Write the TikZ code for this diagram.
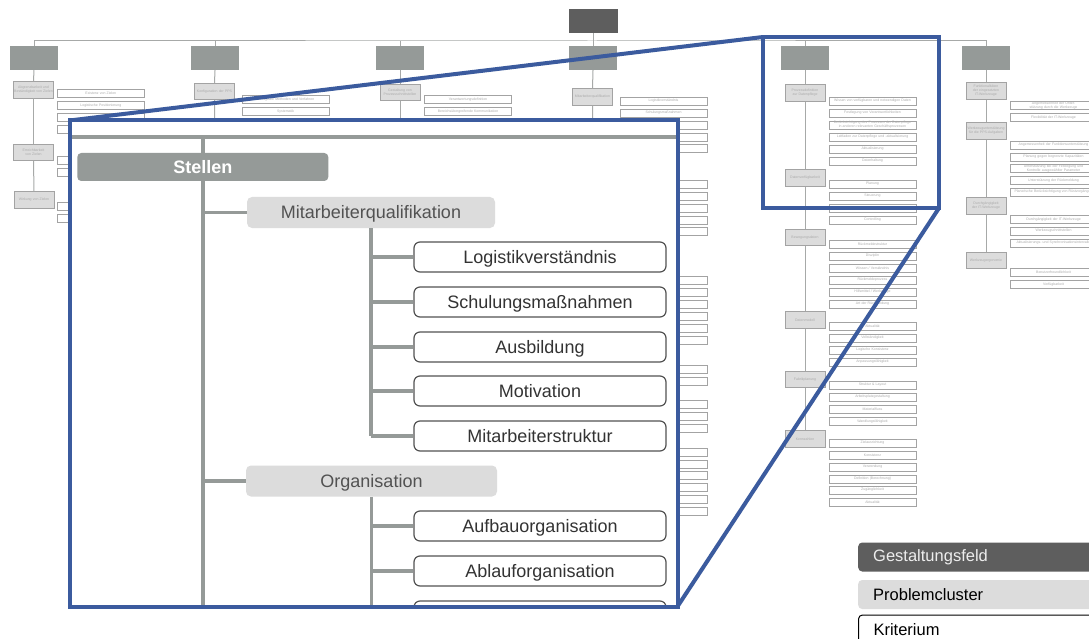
\documentclass[tikz,border=0pt]{standalone}
\usepackage{fontspec}
\setmainfont{Liberation Sans}
\definecolor{gfg}{HTML}{959A98}
\definecolor{dkg}{HTML}{5E5E5E}
\definecolor{pcf}{HTML}{DCDCDC}
\definecolor{pcd}{HTML}{A3A3A3}
\definecolor{lng}{HTML}{A7A9A8}
\definecolor{tinyc}{HTML}{ABABAB}
\definecolor{blu}{RGB}{59,91,158}
\newcommand\tinyf{\fontsize{3.5}{4}\selectfont}
\newcommand\bigf{\fontsize{18}{20}\selectfont}
\tikzset{
  gfbox/.style={fill=gfg, minimum width=48pt, minimum height=24pt, inner sep=0pt},
  pcbox/.style={fill=pcf, draw=pcd, line width=0.8pt, minimum width=40pt, minimum height=16.5pt,
    inner sep=0.3pt, text width=39pt, align=center, font=\tinyf, text=tinyc},
  krbox/.style={fill=white, draw=pcd, line width=0.8pt, minimum width=87pt, minimum height=8pt,
    inner sep=0.2pt, text width=86pt, align=center, font=\tinyf, text=tinyc},
  bgline/.style={draw=lng, line width=1pt},
  zoomline/.style={draw=blu, line width=4pt},
  trunk/.style={draw=gfg, line width=3.5pt},
  stellenbox/.style={fill=gfg, rounded corners=4pt, minimum width=251pt, minimum height=28pt,
    inner sep=0pt, text=white, font=\bigf\bfseries, text depth=1pt},
  clusterbox/.style={fill=pcf, rounded corners=5pt, minimum height=31pt, inner sep=0pt,
    text=black!68, font=\bigf, text depth=0.5pt},
  kritbox/.style={fill=white, draw=black!68, line width=1.2pt, rounded corners=6pt,
    minimum width=252pt, minimum height=30pt, inner sep=0pt, text=black!80, font=\bigf, text depth=0.5pt},
  legbox/.style={anchor=west, rounded corners=4pt, text width=240pt, align=left,
    inner xsep=15pt, minimum height=29pt, font=\fontsize{16.5}{18}\selectfont}
}
\begin{document}
\begin{tikzpicture}[x=1pt,y=-1pt]
\clip (0,0) rectangle (1089,639);
\fill[white] (0,0) rectangle (1089,639);

% ---------- background overview ----------
\node[fill=dkg, minimum width=49pt, minimum height=24pt, inner sep=0pt] (top) at (593,21) {};
\coordinate (hb) at (593,41);
\node[gfbox] (g1) at (34,58) {};
\node[gfbox] (g2) at (215,58) {};
\node[gfbox] (g3) at (400,58) {};
\node[gfbox] (g4) at (593,58) {};
\node[gfbox] (g5) at (805,58) {};
\node[gfbox] (g6) at (986,58) {};
\draw[bgline] (top.south) -- (hb);
\draw[bgline] (g1.north) |- (hb) -| (g6.north);
\foreach \g in {g2,g3,g4,g5} \draw[bgline] (\g.north) -- (\g.north |- hb);

% column 1
\node[pcbox] (c11) at (33.5,89.7) {Abgrenzbarkeit und Beständigkeit von Zielen};
\node[pcbox] (c12) at (33.5,152.5) {Erreichbarkeit von Zielen};
\node[pcbox] (c13) at (34,200) {Wirkung von Zielen};
\foreach \a/\b in {g1/c11,c11/c12,c12/c13} \draw[bgline] (\a.south) -- (\b.north);
\foreach \y/\t [count=\i] in {93.5/Existenz von Zielen,105.5/Logistische Positionierung,117/{},129/{},160.5/{},172/{},206/{},218/{}}
  \node[krbox] (k1-\i) at (100.8,\y) {\t};

% column 2
\node[pcbox] (c21) at (214.5,91.5) {Konfiguration der PPS};
\coordinate (e2) at (215,420);
\draw[bgline] (g2.south) -- (c21.north) (c21.south) -- (e2);
\node[krbox] (k2-1) at (285.6,99.5) {Verfügbare Methoden und Verfahren};
\node[krbox] (k2-2) at (285.6,111.5) {Systematik};

% column 3
\node[pcbox] (c31) at (400,92.5) {Gestaltung von Prozessschnittstellen};
\coordinate (e3) at (400,420);
\draw[bgline] (g3.south) -- (c31.north) (c31.south) -- (e3);
\node[krbox] (k3-1) at (468,99.5) {Verantwortungsdefinition};
\node[krbox] (k3-2) at (468,111.3) {Bereichsübergreifende Kommunikation};

% column 4
\node[pcbox] (c41) at (592.5,97) {Mitarbeiterqualifikation};
\coordinate (e4) at (593,420);
\draw[bgline] (g4.south) -- (c41.north) (c41.south) -- (e4);
\foreach \y/\t [count=\i] in {101/Logistikverständnis,113/Schulungsmaßnahmen,125/Ausbildung,137/Motivation,148.5/Mitarbeiterstruktur,
  184/{},196/{},208/{},220/{},231.5/{},280/{},292/{},304/{},316/{},328/{},340/{},369.5/{},381/{},
  404.5/{},416/{},428/{},452/{},464/{},475.5/{},487/{},499/{},511/{}}
  \node[krbox] (k4-\i) at (663.5,\y) {\t};

% column 5
\node[pcbox] (c51) at (805,93) {Prozessdefinition zur Datenpflege};
\node[pcbox] (c52) at (805,178) {Datenverfügbarkeit};
\node[pcbox] (c53) at (805,237.5) {Bewegungsdaten};
\node[pcbox] (c54) at (805,320) {Datenmodell};
\node[pcbox] (c55) at (805,379.5) {Fabrikplanung};
\node[pcbox] (c56) at (805,439) {Kennzahlen};
\foreach \a/\b in {g5/c51,c51/c52,c52/c53,c53/c54,c54/c55,c55/c56} \draw[bgline] (\a.south) -- (\b.north);
\foreach \y/\t [count=\i] in {101/Wissen von verfügbaren und notwendigen Daten,113/Festlegung von Verantwortlichkeiten,
  125/Berücksichtigung des Prozesses der Datenpflege in anderen relevanten Geschäftsprozessen,
  137/Leitfaden zur Datenpflege und -aktualisierung,149/Aktualisierung,161/Datenhaltung,
  184/Planung,196/Steuerung,208/{},220/Controlling,
  244/Rückmeldestruktur,256/Disziplin,268/{Wissen / Verständnis},280/Rückmeldeprozess,292/{Hilfsmittel / Werkzeuge},304/Art der Rückmeldung,
  326/Aktualität,338/Vollständigkeit,350/Logische Konsistenz,362/Anpassungsfähigkeit,
  385/Struktur \& Layout,397/Arbeitsplatzgestaltung,409/Materialfluss,421.5/Wandlungsfähigkeit,
  443/Zielausrichtung,455/Konsistenz,467/Verwendung,479/Definition (Berechnung),490/Zugänglichkeit,502/Aktualität}
  \node[krbox] (k5-\i) at (872.5,\y) {\t};

% column 6
\node[pcbox] (c61) at (986,91) {Funktionalitäten der eingesetzten IT-Werkzeuge};
\node[pcbox] (c62) at (986,131) {Werkzeugunterstützung für die PPS-Aufgaben};
\node[pcbox] (c63) at (986,206) {Durchgängigkeit der IT-Werkzeuge};
\node[pcbox] (c64) at (986,260.5) {Werkzeugergonomie};
\foreach \a/\b in {g6/c61,c61/c62,c62/c63,c63/c64} \draw[bgline] (\a.south) -- (\b.north);
\foreach \y/\t [count=\i] in {105.5/Angemessenheit der Unterstützung durch die Werkzeuge,117.5/Flexibilität der IT-Werkzeuge,
  145/Angemessenheit der Funktionsunterstützung,157/Planung gegen begrenzte Kapazitäten,
  168.5/Unterstützung bei der Festlegung und Kontrolle ausgewählter Parameter,180.5/Unterstützung der Rückmeldung,
  192/Planerische Berücksichtigung von Rüstvorgängen,
  219.5/Durchgängigkeit der IT-Werkzeuge,231/Werkzeugschnittstellen,243/Aktualisierungs- und Synchronisationsintervalle,
  272.5/Benutzerfreundlichkeit,284.5/Verfügbarkeit}
  \node[krbox] (k6-\i) at (1053.5,\y) {\t};

% ---------- zoom frame ----------
\coordinate (iA) at (69.5,120.5);
\coordinate (iB) at (677.5,606.5);
\coordinate (sA) at (763,37);
\coordinate (sB) at (939,208);
\draw[zoomline] (iA) -- (sA);
\draw[zoomline] (iB) -- (sB);
\draw[zoomline] (sA) rectangle (sB);
\fill[white] (iA) rectangle (iB);

\begin{scope}
\clip (iA) rectangle (iB);
\coordinate (barL) at (69.5,137);
\coordinate (barR) at (677.5,137);
\draw[gfg, line width=4.3pt] (barL) -- (barR);
\node[stellenbox] (st) at (202.8,167) {Stellen};
\coordinate (bot) at (202.8,615);
\draw[trunk] (st.north) -- (st.north |- barL);
\draw[trunk] (st.south) -- (bot);

\node[clusterbox, minimum width=248pt] (mq) at (371,212.5) {Mitarbeiterqualifikation};
\draw[trunk] (st.south |- mq.west) -- (mq.west);
\node[kritbox] (q1) at (540,257) {Logistikverständnis};
\node[kritbox] (q2) at (540,302) {Schulungsmaßnahmen};
\node[kritbox] (q3) at (540,347) {Ausbildung};
\node[kritbox] (q4) at (540,391) {Motivation};
\node[kritbox] (q5) at (540,436) {Mitarbeiterstruktur};
\draw[trunk] (mq.south) -- (mq.south |- q5.west);
\foreach \q in {q1,q2,q3,q4,q5} \draw[trunk] (mq.south |- \q.west) -- (\q.west);

\node[clusterbox, minimum width=251pt] (org) at (371.5,481) {Organisation};
\draw[trunk] (st.south |- org.west) -- (org.west);
\node[kritbox] (o1) at (540,526) {Aufbauorganisation};
\node[kritbox] (o2) at (540,571) {Ablauforganisation};
\node[kritbox] (o3) at (540,616) {};
\draw[trunk] (org.south) -- (org.south |- bot);
\foreach \q in {o1,o2,o3} \draw[trunk] (org.south |- \q.west) -- (\q.west);
\end{scope}
\draw[zoomline] (iA) rectangle (iB);

% ---------- legend ----------
\node[legbox, fill=dkg, text=white!93!black] (lg1) at (858,557) {Gestaltungsfeld};
\node[legbox, fill=pcf, text=black] (lg2) at (858,594.5) {Problemcluster};
\node[legbox, fill=white, draw=black, line width=1pt, text=black] (lg3) at (858,629.5) {Kriterium};
\end{tikzpicture}
\end{document}
